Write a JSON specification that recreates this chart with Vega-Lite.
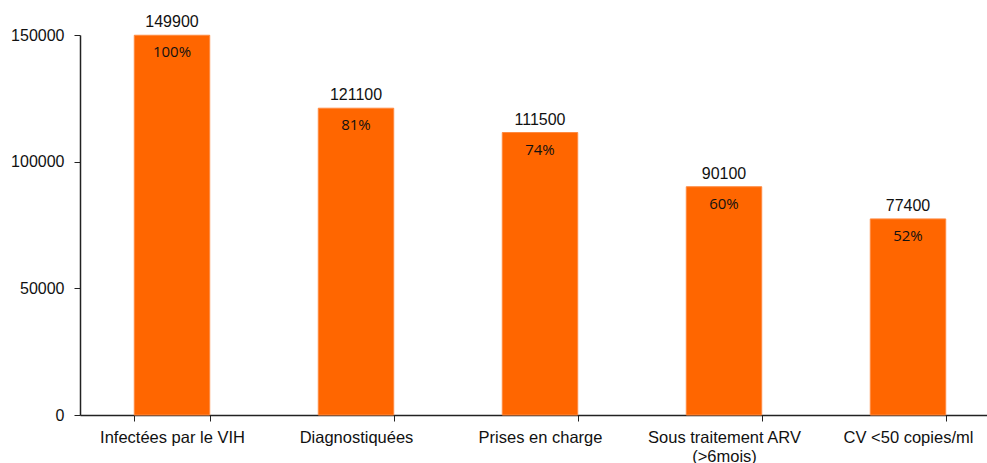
{
  "$schema": "https://vega.github.io/schema/vega-lite/v6.json",
  "width": 907,
  "height": 380,
  "autosize": "none",
  "padding": {"left": 80, "top": 35, "right": 0, "bottom": 48},
  "background": "white",
  "config": {"view": {"stroke": null}, "font": "Liberation Sans"},
  "data": {"values": [
    {"cat": "Infectées par le VIH", "n": 149900, "pct": "100%"},
    {"cat": "Diagnostiquées", "n": 121100, "pct": "81%"},
    {"cat": "Prises en charge", "n": 111500, "pct": "74%"},
    {"cat": "Sous traitement ARV (>6mois)", "n": 90100, "pct": "60%"},
    {"cat": "CV <50 copies/ml", "n": 77400, "pct": "52%"}
  ]},
  "encoding": {
    "x": {"field": "cat", "type": "nominal", "sort": null,
      "scale": {"range": [0, 920], "paddingInner": 0.59, "paddingOuter": 0.295},
      "axis": {"title": null, "labelAngle": 0, "labelFontSize": 16.5, "labelColor": "#111", "labelPadding": 8,
        "tickBand": "extent", "tickSize": 6, "tickColor": "#222", "domainColor": "#222", "domainWidth": 1.5,
        "labelLineHeight": 19, "labelBaseline": "top",
        "labelExpr": "datum.label == 'Sous traitement ARV (>6mois)' ? ['Sous traitement ARV', '(>6mois)'] : datum.label"}},
    "y": {"field": "n", "type": "quantitative",
      "scale": {"domain": [0, 150000], "nice": false},
      "axis": {"title": null, "values": [0, 50000, 100000, 150000], "format": "d", "grid": false,
        "labelFontSize": 16, "labelColor": "#111", "labelPadding": 10, "tickSize": 6,
        "tickColor": "#222", "domainColor": "#222", "domainWidth": 1.5}}
  },
  "layer": [
    {"mark": {"type": "bar", "color": "#FF6600", "stroke": "#FF8A40", "strokeWidth": 1}},
    {"mark": {"type": "text", "baseline": "alphabetic", "dy": -8, "fontSize": 16, "color": "#111"},
      "encoding": {"text": {"field": "n", "type": "quantitative", "format": "d"}}},
    {"mark": {"type": "text", "baseline": "alphabetic", "dy": 22, "fontSize": 15, "font": "Open Sans", "color": "#111"},
      "encoding": {"text": {"field": "pct", "type": "nominal"}}}
  ]
}
